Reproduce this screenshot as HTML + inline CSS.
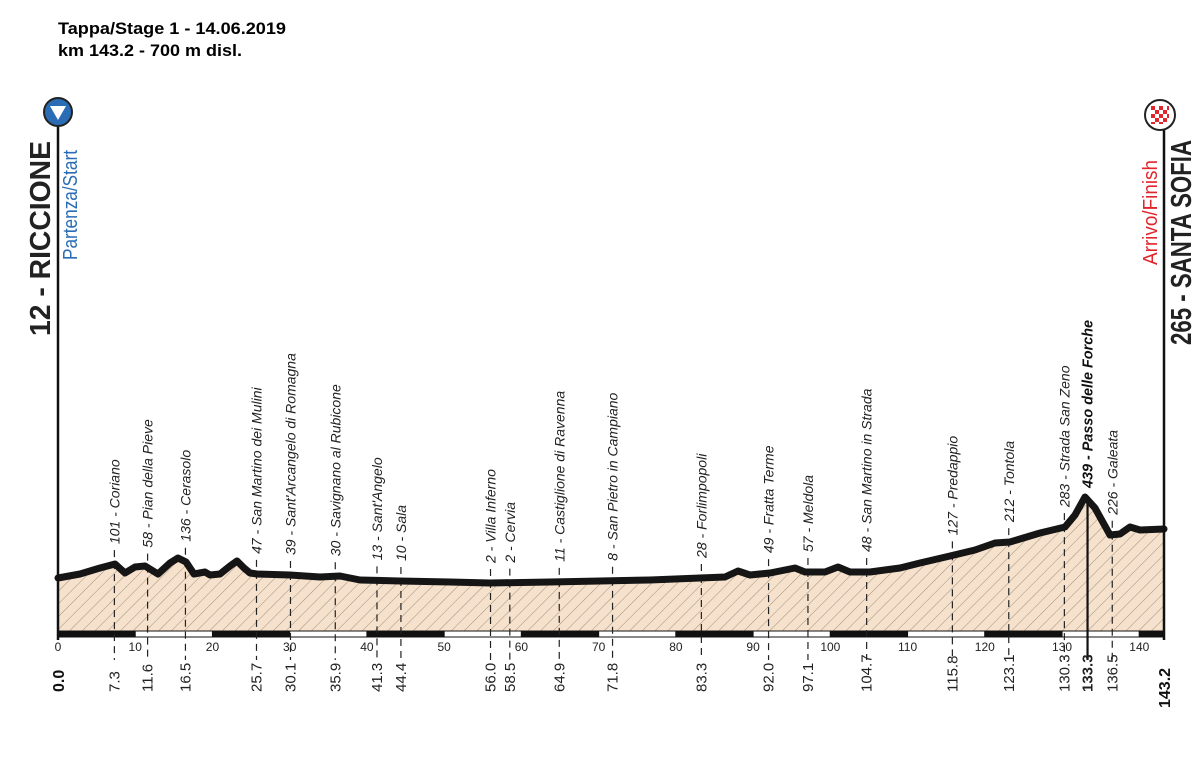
<!DOCTYPE html>
<html><head><meta charset="utf-8"><style>
body{margin:0;background:#fff;}
svg{display:block;font-family:"Liberation Sans",sans-serif;}
</style></head><body>
<svg id="s" width="1200" height="771" viewBox="0 0 1200 771" xmlns="http://www.w3.org/2000/svg">
<defs>
<pattern id="h" width="9" height="9" patternUnits="userSpaceOnUse" patternTransform="rotate(45)">
<rect width="9" height="9" fill="#f6e2cc"/><line x1="0" y1="0" x2="0" y2="9" stroke="#8a7a6a" stroke-width="0.8"/>
</pattern>
</defs>
<text x="58" y="34" font-size="17" font-weight="bold" textLength="228" lengthAdjust="spacingAndGlyphs">Tappa/Stage 1 - 14.06.2019</text>
<text x="58" y="56" font-size="17" font-weight="bold" textLength="184" lengthAdjust="spacingAndGlyphs">km 143.2 - 700 m disl.</text>
<g id="prof"></g>
<line x1="58" y1="125" x2="58" y2="640" stroke="#111" stroke-width="2.5"/>
<line x1="1164" y1="125" x2="1164" y2="640" stroke="#111" stroke-width="2.5"/>
<circle cx="58" cy="112" r="14" fill="#2a6db5" stroke="#222" stroke-width="2"/>
<polygon points="50,106 66,106 58,120" fill="#fff"/>
<g transform="translate(1160,115)">
<circle r="15" fill="#fff" stroke="#222" stroke-width="2"/>
<g fill="#e0262c">
<rect x="-9" y="-9" width="4" height="4"/><rect x="-1" y="-9" width="4" height="4"/><rect x="7" y="-9" width="2" height="4"/>
<rect x="-5" y="-5" width="4" height="4"/><rect x="3" y="-5" width="4" height="4"/>
<rect x="-9" y="-1" width="4" height="4"/><rect x="-1" y="-1" width="4" height="4"/><rect x="7" y="-1" width="2" height="4"/>
<rect x="-5" y="3" width="4" height="4"/><rect x="3" y="3" width="4" height="4"/>
<rect x="-9" y="7" width="4" height="2"/><rect x="-1" y="7" width="4" height="2"/>
</g></g>
<text transform="translate(50,336) rotate(-90)" font-size="29" font-weight="bold" fill="#222" textLength="195" lengthAdjust="spacingAndGlyphs">12 - RICCIONE</text>
<text transform="translate(77,260) rotate(-90)" font-size="20" fill="#2a6db5" textLength="110" lengthAdjust="spacingAndGlyphs">Partenza/Start</text>
<text transform="translate(1191,345) rotate(-90)" font-size="29" font-weight="bold" fill="#222" textLength="205" lengthAdjust="spacingAndGlyphs">265 - SANTA SOFIA</text>
<text transform="translate(1157,265) rotate(-90)" font-size="20" fill="#e0262c" textLength="105" lengthAdjust="spacingAndGlyphs">Arrivo/Finish</text>
</svg>
<script>
var NS="http://www.w3.org/2000/svg",g=document.getElementById("prof");
function el(t,a,txt){var e=document.createElementNS(NS,t);for(var k in a)e.setAttribute(k,a[k]);if(txt!=null)e.textContent=txt;g.appendChild(e);return e;}
var P=[[58,578],[80,574],[100,568],[115,564],[125,573],[135,567],[145,566],[158,574],[170,563],[178,558],[186,562],[194,574],[205,572],[210,575],[220,574],[230,566],[237,561],[244,568],[250,573],[257,574],[290,575],[320,577],[340,576],[360,580],[400,581],[450,582],[490,583],[550,582],[600,581],[650,580],[700,578],[725,577],[738,571],[750,575],[770,573],[785,570],[795,568],[805,572],[825,572],[838,567],[850,572],[870,572],[900,568],[920,563],[950,556],[975,550],[995,543],[1010,542],[1040,533],[1065,527],[1075,515],[1085,497],[1095,508],[1110,535],[1120,534],[1130,527],[1140,530],[1164,529]];
function py(x){for(var i=1;i<P.length;i++){if(x<=P[i][0]){var a=P[i-1],b=P[i];return a[1]+(b[1]-a[1])*(x-a[0])/(b[0]-a[0]);}}return P[P.length-1][1];}
var d="M"+P.map(function(p){return p.join(",")}).join(" L");
el("path",{d:d+" L1164,632 L58,632 Z",fill:"url(#h)"});
for(var k=0;k<143.2;k+=10){var x1=58+k*7.7235,x2=58+Math.min(k+10,143.2)*7.7235;var blk=(k/10)%2==0;
el("rect",{x:x1,y:631,width:x2-x1,height:6,fill:blk?"#111":"#fff",stroke:"#111","stroke-width":1});
if(k>0)el("text",{x:x1,y:651,"font-size":12,"text-anchor":"middle",fill:"#222"},String(k));}
el("text",{x:58,y:651,"font-size":12,"text-anchor":"middle",fill:"#222"},"0");
var L=[[7.3,"101 - Coriano"],[11.6,"58 - Pian della Pieve"],[16.5,"136 - Cerasolo"],[25.7,"47 - San Martino dei Mulini"],[30.1,"39 - Sant'Arcangelo di Romagna"],[35.9,"30 - Savignano al Rubicone"],[41.3,"13 - Sant'Angelo"],[44.4,"10 - Sala"],[56.0,"2 - Villa Inferno"],[58.5,"2 - Cervia"],[64.9,"11 - Castiglione di Ravenna"],[71.8,"8 - San Pietro in Campiano"],[83.3,"28 - Forlimpopoli"],[92.0,"49 - Fratta Terme"],[97.1,"57 - Meldola"],[104.7,"48 - San Martino in Strada"],[115.8,"127 - Predappio"],[123.1,"212 - Tontola"],[130.3,"283 - Strada San Zeno"],[133.3,"439 - Passo delle Forche",1],[136.5,"226 - Galeata"]];
L.forEach(function(l){var x=58+l[0]*7.7235,y=py(x);var b=l[2];
if(b){el("line",{x1:x,y1:498,x2:x,y2:660,stroke:"#111","stroke-width":2.2});
el("text",{transform:"translate("+(x+5)+",488) rotate(-90)","font-size":15,"font-weight":"bold","font-style":"italic",fill:"#111",textLength:168,lengthAdjust:"spacingAndGlyphs"},l[1]);}
else{var top=y-14;el("line",{x1:x,y1:top,x2:x,y2:660,stroke:"#222","stroke-width":1.2,"stroke-dasharray":"7,5"});
el("text",{transform:"translate("+(x+5)+","+(top-6)+") rotate(-90)","font-size":14,"font-style":"italic",fill:"#222"},l[1]);}
el("text",{transform:"translate("+(x+5)+",692) rotate(-90)","font-size":15,"font-weight":b?"bold":"normal",fill:"#222"},l[0].toFixed(1));});
el("path",{d:d,fill:"none",stroke:"#151515","stroke-width":7,"stroke-linejoin":"round","stroke-linecap":"round"});
el("text",{transform:"translate(64,692) rotate(-90)","font-size":16,"font-weight":"bold",fill:"#111"},"0.0");
el("text",{transform:"translate(1170,708) rotate(-90)","font-size":16,"font-weight":"bold",fill:"#111"},"143.2");
</script>
</body></html>
